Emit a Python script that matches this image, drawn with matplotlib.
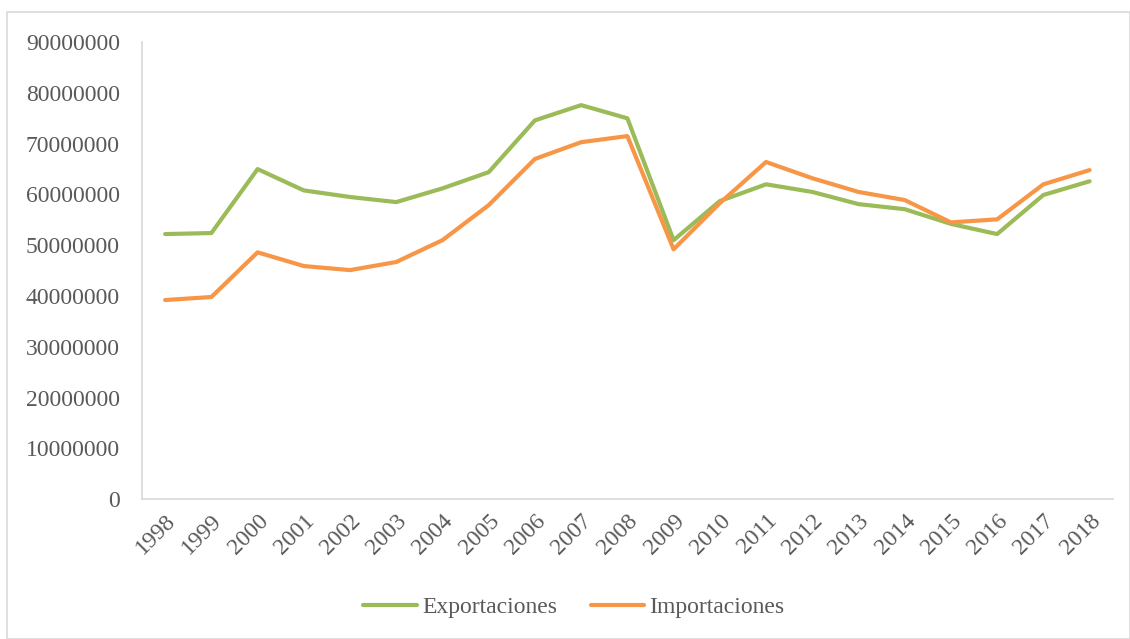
import matplotlib.pyplot as plt
from matplotlib.patches import Rectangle

plt.rcParams['font.family'] = ['Liberation Serif', 'DejaVu Serif']

years = [str(y) for y in range(1998, 2019)]
exportaciones = [52.2, 52.4, 65.0, 60.8, 59.5, 58.5, 61.2, 64.4, 74.6, 77.6, 75.0,
                 51.0, 58.7, 62.0, 60.5, 58.1, 57.1, 54.2, 52.2, 59.9, 62.6]
importaciones = [39.2, 39.8, 48.6, 45.9, 45.1, 46.7, 51.0, 57.9, 67.0, 70.3, 71.5,
                 49.2, 58.3, 66.4, 63.2, 60.5, 58.9, 54.5, 55.1, 62.0, 64.8]
exportaciones = [v * 1e6 for v in exportaciones]
importaciones = [v * 1e6 for v in importaciones]

fig = plt.figure(figsize=(11.3, 6.39), dpi=100)
ax = fig.add_axes([0.1257, 0.219, 0.859, 0.715])

x = range(len(years))
ax.plot(x, exportaciones, color='#9BBB59', lw=3, label='Exportaciones', solid_capstyle='round')
ax.plot(x, importaciones, color='#F79646', lw=3, label='Importaciones', solid_capstyle='round')

ax.set_xlim(-0.5, len(years) - 0.5)
ax.set_ylim(0, 90000000)
ax.set_yticks(range(0, 90000001, 10000000))
ax.set_yticklabels([str(v) for v in range(0, 90000001, 10000000)])
ax.set_xticks(list(x))
ax.set_xticklabels(years, rotation=45, ha='right', rotation_mode='anchor')

for s in ['top', 'right']:
    ax.spines[s].set_visible(False)
for s in ['left', 'bottom']:
    ax.spines[s].set_color('#D9D9D9')
    ax.spines[s].set_linewidth(1.2)
ax.tick_params(axis='both', length=0, labelsize=17, colors='#595959')
ax.tick_params(axis='y', pad=16)
ax.tick_params(axis='x', pad=8)

leg = fig.legend(loc='center', bbox_to_anchor=(0.508, 0.05), ncol=2, frameon=False,
                 fontsize=17, handlelength=2.25, columnspacing=1.4, handletextpad=0.25)
for t in leg.get_texts():
    t.set_color('#595959')

fig.patches.append(Rectangle((0.006, 0.0), 0.994, 0.981, transform=fig.transFigure,
                             fill=False, edgecolor='#D9D9D9', lw=1.2))

fig.savefig('out.png', dpi=100)
